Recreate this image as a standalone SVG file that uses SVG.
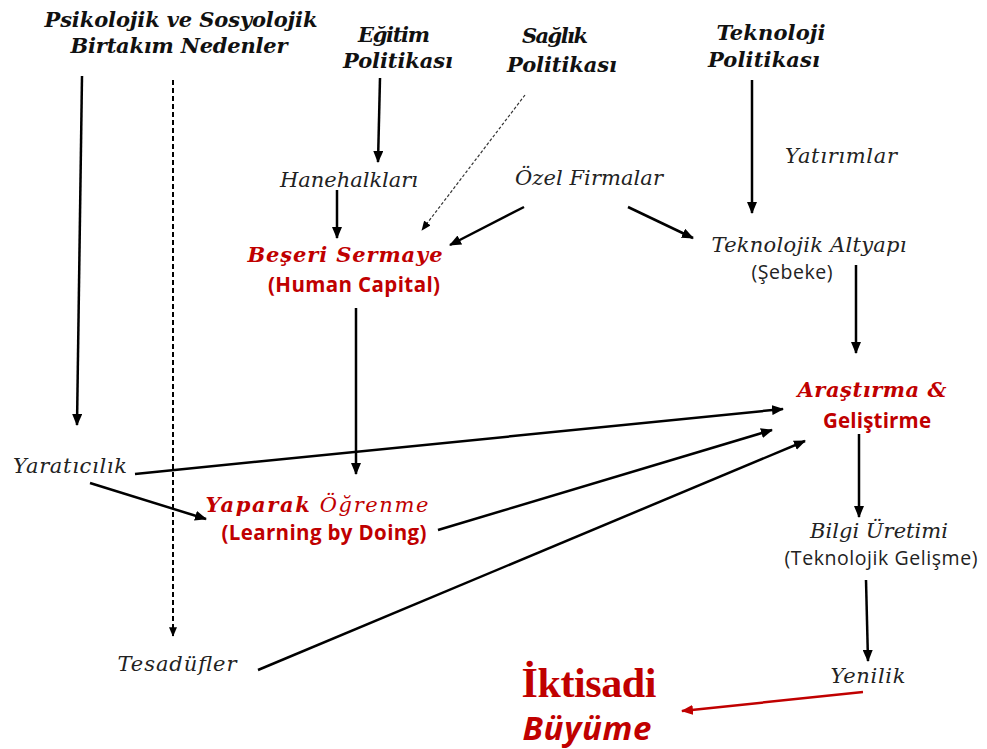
<svg xmlns="http://www.w3.org/2000/svg" width="987" height="749" viewBox="0 0 987 749">
<defs>
<marker id="ah" viewBox="0 0 12 10" refX="11" refY="5" markerWidth="12" markerHeight="10" markerUnits="userSpaceOnUse" orient="auto"><path d="M0,0 L12,5 L0,10 Z" fill="#000"/></marker>
<marker id="ahs" viewBox="0 0 12 10" refX="11" refY="5" markerWidth="10" markerHeight="8" markerUnits="userSpaceOnUse" orient="auto"><path d="M0,0 L12,5 L0,10 Z" fill="#000"/></marker>
<marker id="ahr" viewBox="0 0 12 10" refX="11" refY="5" markerWidth="12" markerHeight="10" markerUnits="userSpaceOnUse" orient="auto"><path d="M0,0 L12,5 L0,10 Z" fill="#c00000"/></marker>
</defs>
<style>
.s{font-family:"DejaVu Serif","Liberation Serif",serif;font-style:italic;fill:#222;font-size:21px;text-anchor:middle}
.b{font-weight:bold;fill:#111}
.r{fill:#c00000}
.c{font-family:"Open Sans","Liberation Sans",sans-serif;font-size:19.5px;text-anchor:middle;fill:#222}
.cb{font-weight:bold;fill:#c00000;font-size:20.5px}
.ln{stroke:#000;stroke-width:2.5;fill:none;marker-end:url(#ah)}
</style>
<rect width="987" height="749" fill="#fff"/>
<g id="connectors">
<line class="ln" x1="82" y1="76" x2="77" y2="425"/>
<line x1="173" y1="80" x2="173" y2="636" stroke="#000" stroke-width="2" stroke-dasharray="5,3" marker-end="url(#ahs)"/>
<line class="ln" x1="380" y1="78" x2="378" y2="162"/>
<line x1="525" y1="95" x2="422" y2="230" stroke="#333" stroke-width="1.2" stroke-dasharray="3,2" marker-end="url(#ahs)"/>
<line class="ln" x1="337" y1="190" x2="337" y2="238"/>
<line class="ln" x1="524" y1="207" x2="450" y2="245"/>
<line class="ln" x1="628" y1="207" x2="693" y2="238"/>
<line class="ln" x1="752" y1="80" x2="752" y2="213"/>
<line class="ln" x1="856" y1="265" x2="856" y2="353"/>
<line class="ln" x1="356" y1="308" x2="356" y2="474"/>
<line class="ln" x1="135" y1="474" x2="783" y2="409"/>
<line class="ln" x1="90" y1="483" x2="206" y2="519"/>
<line class="ln" x1="438" y1="530" x2="772" y2="430"/>
<line class="ln" x1="258" y1="670" x2="805" y2="441"/>
<line class="ln" x1="859" y1="434" x2="859" y2="517"/>
<line class="ln" x1="866" y1="580" x2="868" y2="661"/>
<line x1="863" y1="692" x2="682" y2="711" stroke="#c00000" stroke-width="2.5" marker-end="url(#ahr)"/>
</g>
<g id="psikolojik"><text class="s b" x="181" y="27" textLength="273">Psikolojik ve Sosyolojik</text><text class="s b" x="179" y="53" textLength="217">Birtakım Nedenler</text></g>
<g id="egitim"><text class="s b" x="394" y="42" textLength="72">Eğitim</text><text class="s b" x="398" y="68" textLength="110">Politikası</text></g>
<g id="saglik"><text class="s b" x="555" y="43" textLength="66">Sağlık</text><text class="s b" x="562" y="72" textLength="110">Politikası</text></g>
<g id="teknoloji"><text class="s b" x="771" y="40" textLength="109">Teknoloji</text><text class="s b" x="764" y="67" textLength="112">Politikası</text></g>
<g id="yatirimlar"><text class="s" x="841" y="163" textLength="112">Yatırımlar</text></g>
<g id="hanehalklari"><text class="s" x="349" y="187" textLength="138">Hanehalkları</text></g>
<g id="ozel"><text class="s" x="589" y="185" textLength="148">Özel Firmalar</text></g>
<g id="beseri"><text class="s b r" x="345" y="262" font-size="22.5" textLength="195">Beşeri Sermaye</text><text class="c cb" x="354" y="292" textLength="172">(Human Capital)</text></g>
<g id="altyapi"><text class="s" x="809" y="252" textLength="195">Teknolojik Altyapı</text><text class="c" x="792" y="279" textLength="81">(Şebeke)</text></g>
<g id="arge"><text class="s b r" x="872" y="397" font-size="22.5" textLength="149">Araştırma &amp;</text><text class="c cb" x="877" y="428" textLength="108">Geliştirme</text></g>
<g id="yaraticilik"><text class="s" x="70" y="473" textLength="114">Yaratıcılık</text></g>
<g id="yaparak"><text class="s r" x="317" y="512" font-size="22.5" textLength="223"><tspan font-weight="bold">Yaparak</tspan> Öğrenme</text><text class="c cb" x="324" y="540" textLength="205">(Learning by Doing)</text></g>
<g id="bilgi"><text class="s" x="879" y="538" textLength="138">Bilgi Üretimi</text><text class="c" x="881" y="565" textLength="193">(Teknolojik Gelişme)</text></g>
<g id="tesadufler"><text class="s" x="177" y="671" textLength="119">Tesadüfler</text></g>
<g id="yenilik"><text class="s" x="868" y="683" textLength="75">Yenilik</text></g>
<g id="iktisadi"><text x="589" y="697" font-family="'Liberation Serif',serif" font-weight="bold" font-size="42" fill="#c00000" text-anchor="middle" textLength="135">İktisadi</text><text x="587" y="740" font-family="'Open Sans','Liberation Sans',sans-serif" font-weight="bold" font-style="italic" font-size="33" fill="#c00000" text-anchor="middle" textLength="129">Büyüme</text></g>
</svg>
